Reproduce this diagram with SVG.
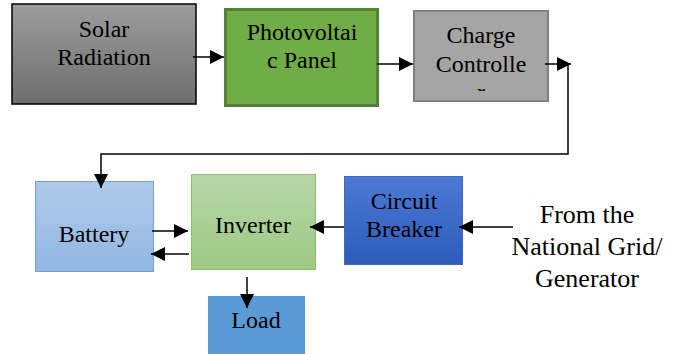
<svg xmlns="http://www.w3.org/2000/svg" width="679" height="354" viewBox="0 0 679 354">
<defs>
<linearGradient id="gSolar" x1="0" y1="0" x2="0" y2="1"><stop offset="0" stop-color="#9d9d9d"/><stop offset="1" stop-color="#6e6e6e"/></linearGradient>
<linearGradient id="gBat" x1="0" y1="0" x2="0" y2="1"><stop offset="0" stop-color="#afcae9"/><stop offset="1" stop-color="#91b7e2"/></linearGradient>
<linearGradient id="gInv" x1="0" y1="0" x2="0" y2="1"><stop offset="0" stop-color="#b7d6a9"/><stop offset="1" stop-color="#9dc984"/></linearGradient>
<linearGradient id="gCB" x1="0" y1="0" x2="0" y2="1"><stop offset="0" stop-color="#4c79d2"/><stop offset="1" stop-color="#2c5cbc"/></linearGradient>
<marker id="ah" markerUnits="userSpaceOnUse" markerWidth="16" markerHeight="14" refX="14" refY="7" orient="auto">
<path d="M0,0 L14,7 L0,14 Z" fill="#000"/>
</marker>
<clipPath id="clipR"><rect x="413" y="80" width="136" height="11"/></clipPath>
</defs>
<style>
.ln{stroke:#000;stroke-width:1.5;fill:none}
</style>
<g id="solar">
<rect x="12" y="4" width="184" height="100" fill="url(#gSolar)" stroke="#000" stroke-width="1.5"/>
<text x="104" y="37" font-family="Liberation Serif" font-size="24" text-anchor="middle">Solar</text>
<text x="104" y="65" font-family="Liberation Serif" font-size="24" text-anchor="middle">Radiation</text>
</g>
<g id="pv">
<rect x="225.5" y="9.5" width="152" height="96" fill="#70ad47" stroke="#548235" stroke-width="3"/>
<text x="302" y="40" font-family="Liberation Serif" font-size="24" text-anchor="middle">Photovoltai</text>
<text x="302" y="68" font-family="Liberation Serif" font-size="24" text-anchor="middle">c Panel</text>
</g>
<g id="charge">
<rect x="414" y="11" width="134" height="90" fill="#a5a5a5" stroke="#7f7f7f" stroke-width="2"/>
<text x="481" y="43" font-family="Liberation Serif" font-size="24" text-anchor="middle">Charge</text>
<text x="481" y="72" font-family="Liberation Serif" font-size="24" text-anchor="middle">Controlle</text>
<text x="481" y="100" font-family="Liberation Serif" font-size="24" text-anchor="middle" clip-path="url(#clipR)">r</text>
</g>
<g id="battery">
<rect x="35.5" y="181.5" width="118" height="90" fill="url(#gBat)" stroke="#6ea2d8" stroke-width="1"/>
<text x="94" y="242" font-family="Liberation Serif" font-size="24" text-anchor="middle">Battery</text>
</g>
<g id="inverter">
<rect x="191.5" y="174.5" width="124" height="95" fill="url(#gInv)" stroke="#8cc06b" stroke-width="1"/>
<text x="253" y="233" font-family="Liberation Serif" font-size="24" text-anchor="middle">Inverter</text>
</g>
<g id="breaker">
<rect x="344.5" y="176.5" width="118" height="88" fill="url(#gCB)" stroke="#4169c4" stroke-width="1"/>
<text x="404" y="209" font-family="Liberation Serif" font-size="24" text-anchor="middle">Circuit</text>
<text x="404" y="237" font-family="Liberation Serif" font-size="24" text-anchor="middle">Breaker</text>
</g>
<g id="load">
<rect x="208" y="296" width="97" height="58" fill="#5b9bd5"/>
<text x="256" y="328" font-family="Liberation Serif" font-size="24" text-anchor="middle">Load</text>
</g>
<g id="grid">
<text x="587" y="223" font-family="Liberation Serif" font-size="26" text-anchor="middle">From the</text>
<text x="587" y="255" font-family="Liberation Serif" font-size="26" text-anchor="middle">National Grid/</text>
<text x="587" y="287" font-family="Liberation Serif" font-size="26" text-anchor="middle">Generator</text>
</g>
<g id="connectors">
<line class="ln" x1="193" y1="57" x2="224" y2="57" marker-end="url(#ah)"/>
<line class="ln" x1="377" y1="64" x2="413" y2="64" marker-end="url(#ah)"/>
<line class="ln" x1="545" y1="64" x2="571" y2="64" marker-end="url(#ah)"/>
<polyline class="ln" points="568,64 568,154 101,154 101,188" marker-end="url(#ah)"/>
<line class="ln" x1="152" y1="231" x2="188" y2="231" marker-end="url(#ah)"/>
<line class="ln" x1="189" y1="254" x2="151" y2="254" marker-end="url(#ah)"/>
<line class="ln" x1="247" y1="277" x2="247" y2="308" marker-end="url(#ah)"/>
<line class="ln" x1="344" y1="227" x2="310" y2="227" marker-end="url(#ah)"/>
<line class="ln" x1="513" y1="227" x2="459" y2="227" marker-end="url(#ah)"/>
</g>
</svg>
